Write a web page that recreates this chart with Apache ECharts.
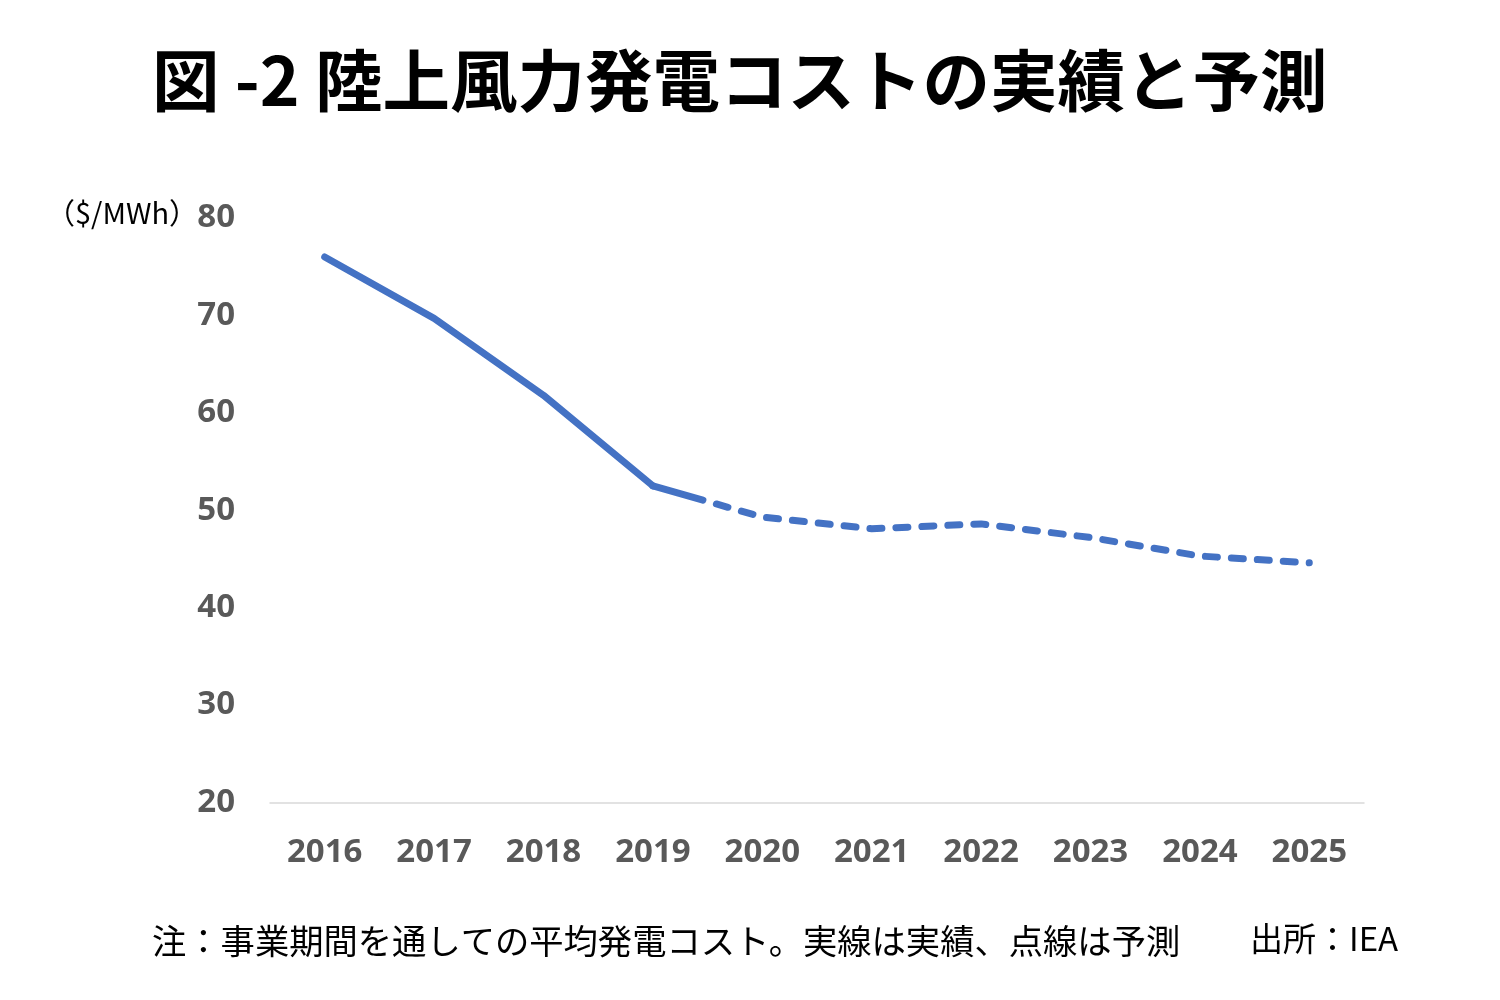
<!DOCTYPE html>
<html>
<head>
<meta charset="utf-8">
<script src="https://cdn.jsdelivr.net/npm/echarts@6/dist/echarts.min.js"></script>
<style>
html,body{margin:0;padding:0;background:#fff;}
#main{width:1500px;height:1000px;}
</style>
</head>
<body>
<div id="main"></div>
<script>
const titleText = '図 -2 陸上風力発電コストの実績と予測';
const unitText = '（$/MWh）';
const noteText = '注：事業期間を通しての平均発電コスト。実線は実績、点線は予測';
const sourceText = '出所：IEA';
const years = ['2016','2017','2018','2019','2020','2021','2022','2023','2024','2025'];
const actual = [76.0, 69.7, 61.8, 52.5, null, null, null, null, null, null];
const forecast = [null, null, null, 52.5, 49.3, 48.1, 48.6, 47.2, 45.3, 44.6];
const yMin = 20, yMax = 80, yStep = 10;

const lineColor = '#4472C4';
const labelColor = '#595959';

// dash pattern: first long solid piece then short dashes
const dashPattern = [52, 14];
for (let i = 0; i < 40; i++) { dashPattern.push(12, 14); }

const chart = echarts.init(document.getElementById('main'));
chart.setOption({
  backgroundColor: '#fff',
  animation: false,
  grid: { left: 270, right: 136, top: 218, bottom: 197.5 },
  xAxis: {
    type: 'category',
    data: years,
    boundaryGap: true,
    axisLine: { lineStyle: { color: '#d9d9d9', width: 1.5 } },
    axisTick: { show: false },
    axisLabel: { color: labelColor, fontSize: 33, fontWeight: 'bold', fontFamily: 'Open Sans', margin: 34 },
    splitLine: { show: false }
  },
  yAxis: {
    type: 'value',
    min: yMin, max: yMax, interval: yStep,
    axisLine: { show: false },
    axisTick: { show: false },
    splitLine: { show: false },
    axisLabel: { color: labelColor, fontSize: 33, fontWeight: 'bold', fontFamily: 'Open Sans', margin: 35, padding: [4, 0, 0, 0] }
  },
  series: [
    {
      type: 'line', data: actual, symbol: 'none', connectNulls: false,
      lineStyle: { color: lineColor, width: 7, cap: 'round', join: 'round' }
    },
    {
      type: 'line', data: forecast, symbol: 'none', connectNulls: false,
      lineStyle: { color: lineColor, width: 7, type: dashPattern, cap: 'round', join: 'round' }
    }
  ],
  graphic: [
    { type: 'text', x: 152, y: 80, style: { text: titleText, font: 'bold 67.5px "Noto Sans CJK JP"', fill: '#000', textVerticalAlign: 'middle' } },
    { type: 'text', x: 46, y: 213, style: { text: unitText, font: '29px "Noto Sans CJK JP"', fill: '#000', textVerticalAlign: 'middle' } },
    { type: 'text', x: 152, y: 941, style: { text: noteText, font: '34.3px "Noto Sans CJK JP"', fill: '#000', textVerticalAlign: 'middle' } },
    { type: 'text', x: 1250, y: 938, style: { text: sourceText, font: '33px "Noto Sans CJK JP"', fill: '#000', textVerticalAlign: 'middle' } }
  ]
});
</script>
</body>
</html>
